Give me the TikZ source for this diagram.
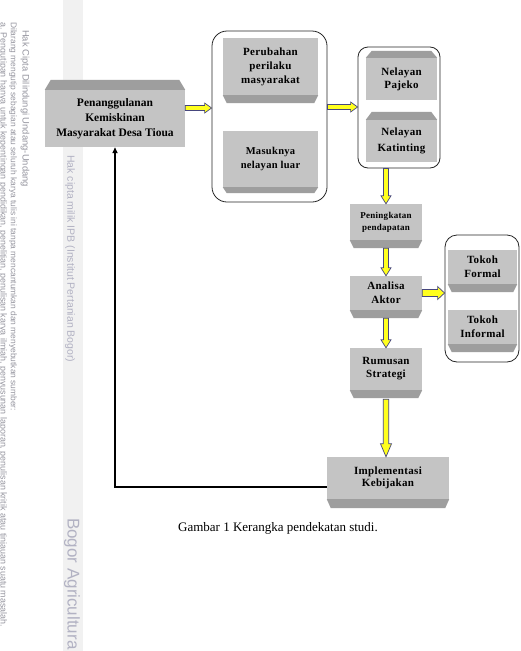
\documentclass[tikz,border=0pt]{standalone}
\usepackage{fontspec}
\setmainfont{Liberation Serif}
\newfontfamily\wmfont{Liberation Sans}
\newfontfamily\bxfont[LetterSpace=3]{Liberation Serif}
\usetikzlibrary{arrows.meta,calc}
\definecolor{facegray}{RGB}{196,196,196}
\definecolor{bevgray}{RGB}{158,158,158}
\definecolor{arrline}{RGB}{70,70,125}
\definecolor{arrfill}{RGB}{255,255,30}
\definecolor{wmgray}{RGB}{150,150,160}
\definecolor{wmlight}{RGB}{178,178,195}
\definecolor{bandgray}{RGB}{241,241,241}
\newcommand\bevbot[2]{\fill[bevgray] (#1.south west) -- (#1.south east) -- ([xshift=-4pt,yshift=-#2]#1.south east) -- ([xshift=4pt,yshift=-#2]#1.south west) -- cycle;}
\newcommand\bevtop[2]{\fill[bevgray] (#1.north west) -- (#1.north east) -- ([xshift=-6pt,yshift=#2]#1.north east) -- ([xshift=6pt,yshift=#2]#1.north west) -- cycle;}
% horizontal yellow arrow: start, end, half shaft, half head, head length
\newcommand\yharrow[5]{\filldraw[yarr] let \p1=(#1), \p2=(#2) in
 (\x1,\y1+#3) -- (\x2-#5,\y1+#3) -- (\x2-#5,\y1+#4) -- (\x2,\y1) -- (\x2-#5,\y1-#4) -- (\x2-#5,\y1-#3) -- (\x1,\y1-#3) -- cycle;}
% vertical (downward) yellow arrow
\newcommand\yvarrow[5]{\filldraw[yarr] let \p1=(#1), \p2=(#2) in
 (\x1-#3,\y1) -- (\x1-#3,\y2+#5) -- (\x1-#4,\y2+#5) -- (\x1,\y2) -- (\x1+#4,\y2+#5) -- (\x1+#3,\y2+#5) -- (\x1+#3,\y1) -- cycle;}
\begin{document}
\begin{tikzpicture}[x=1pt,y=-1pt,
  box/.style={fill=facegray, inner sep=0pt, align=center},
  grp/.style={draw=black!85, line width=0.8pt, rounded corners=#1, inner sep=0pt},
  yarr/.style={fill=arrfill, draw=arrline, line width=0.7pt, line join=miter},
  wm/.style={inner sep=0pt, rotate=-90, anchor=west, text=wmgray}]
\useasboundingbox (0,0) rectangle (521,651);
\fill[white] (0,0) rectangle (521,651);
% watermark
\fill[bandgray] (63,0) rectangle (83,651);
\node[wm, font=\wmfont\fontsize{8.9}{8.9}\selectfont] (wa) at (3,22) {a. Pengutipan hanya untuk kepentingan pendidikan, penelitian, penulisan karya ilmiah, penyusunan laporan, penulisan kritik atau tinjauan suatu masalah.};
\node[wm, font=\wmfont\fontsize{8.4}{8.4}\selectfont] (wb) at (13,22) {Dilarang mengutip sebagian atau seluruh karya tulis ini tanpa mencantumkan dan menyebutkan sumber:};
\node[wm, font=\wmfont\fontsize{9.4}{9.4}\selectfont] (wc) at (25,30) {Hak Cipta Dilindungi Undang-Undang};
\node[wm, font=\wmfont\fontsize{10.5}{10.5}\selectfont, text=wmlight] (wd) at (70,155) {Hak cipta milik IPB (Institut Pertanian Bogor)};
\node[wm, font=\wmfont\fontsize{17}{17}\selectfont, text=wmlight] (we) at (72,518) {Bogor Agricultura};
% groups
\node[grp=15pt, minimum width=115pt, minimum height=171pt] (g2) at (269.5,116.5) {};
\node[grp=10pt, minimum width=82pt, minimum height=121pt] (g3) at (399,107.5) {};
\node[grp=12pt, minimum width=74pt, minimum height=127pt] (g4) at (482,298.5) {};
% boxes
\node[box, minimum width=140pt, minimum height=57pt, font=\bfseries\fontsize{11.5}{15}\selectfont] (b1) at (115,118.5) {Penanggulanan\\Kemiskinan\\Masyarakat Desa Tioua};
\bevtop{b1}{10pt}
\node[box, minimum width=95pt, minimum height=57pt, font=\bxfont\bfseries\fontsize{11}{14}\selectfont] (p1) at (270.5,66.5) {Perubahan\\perilaku\\masyarakat};
\bevbot{p1}{8pt}
\node[box, minimum width=95pt, minimum height=56pt, font=\bxfont\bfseries\fontsize{10.5}{14}\selectfont] (p2) at (270.5,159) {Masuknya\\nelayan luar};
\bevbot{p2}{6pt}
\node[box, minimum width=71pt, minimum height=42pt, font=\bxfont\bfseries\fontsize{11}{13}\selectfont] (n1) at (401.5,79) {Nelayan\\Pajeko};
\bevtop{n1}{7pt}
\node[box, minimum width=71pt, minimum height=42pt, font=\bxfont\bfseries\fontsize{11}{16}\selectfont] (n2) at (401.5,141) {Nelayan\\Katinting};
\bevtop{n2}{8pt}
\node[box, minimum width=72pt, minimum height=36pt, font=\bxfont\bfseries\fontsize{9}{12}\selectfont] (pk) at (386,222) {Peningkatan\\pendapatan};
\bevbot{pk}{8pt}
\node[box, minimum width=72pt, minimum height=34pt, font=\bxfont\bfseries\fontsize{11}{14}\selectfont] (an) at (386,293) {Analisa\\Aktor};
\bevbot{an}{8pt}
\node[box, minimum width=72pt, minimum height=42pt, font=\bxfont\bfseries\fontsize{11}{13}\selectfont] (rs) at (386,369) {Rumusan\\Strategi};
\bevbot{rs}{8pt}
\node[box, minimum width=69pt, minimum height=34pt, font=\bxfont\bfseries\fontsize{11}{14}\selectfont] (tf) at (482.5,267) {Tokoh\\Formal};
\bevbot{tf}{8pt}
\node[box, minimum width=69pt, minimum height=34pt, font=\bxfont\bfseries\fontsize{11}{14}\selectfont] (ti) at (482.5,327) {Tokoh\\Informal};
\bevbot{ti}{8pt}
\node[box, minimum width=122pt, minimum height=42pt, font=\bxfont\bfseries\fontsize{11}{12.5}\selectfont] (im) at (388,478) {Implementasi\\Kebijakan};
\bevbot{im}{9pt}
% yellow arrows
\yharrow{$(b1.east)+(0,-10.5)$}{g2.west}{2.5pt}{5pt}{7pt}
\yharrow{$(g2.east)+(0,-9.5)$}{g3.west}{2.5pt}{5pt}{7pt}
\yvarrow{pk.north |- g3.south}{pk.north}{2.5pt}{5pt}{8pt}
\yvarrow{$(pk.south)+(0,8)$}{an.north}{2.5pt}{5pt}{8pt}
\yharrow{an.east}{g4.west}{3.5pt}{6.5pt}{7pt}
\yvarrow{$(an.south)+(0,8)$}{rs.north}{2.5pt}{5pt}{8pt}
\yvarrow{$(rs.south)+(0,9)$}{im.north}{2.7pt}{5.5pt}{13pt}
% feedback
\coordinate (fb) at ($(im.west)+(0,9)$);
\draw[line width=1.6pt, -{Triangle[length=6pt,width=5pt]}] (fb) -- (fb -| b1.south) -- (b1.south);
% caption
\node[inner sep=0pt, font=\fontsize{13}{15}\selectfont] (cap) at (278,528) {Gambar 1 Kerangka pendekatan studi.};
\end{tikzpicture}
\end{document}
